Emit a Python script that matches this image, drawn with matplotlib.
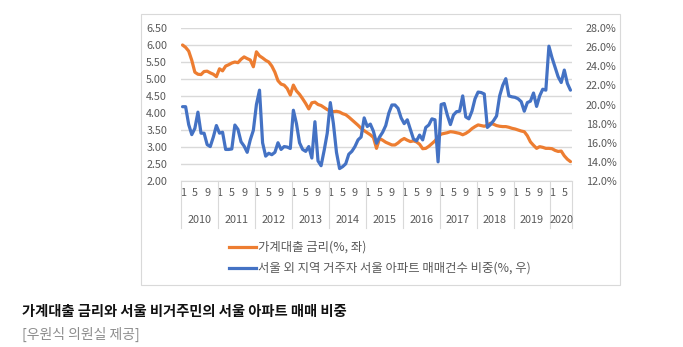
import matplotlib
matplotlib.use("Agg")
import matplotlib.pyplot as plt
from matplotlib.patches import Rectangle
from matplotlib.lines import Line2D
import matplotlib.transforms as mtransforms

plt.rcParams['font.family'] = ['Noto Sans CJK KR', 'DejaVu Sans']

# Monthly data, 2010-01 .. 2020-07
years = [2010, 2011, 2012, 2013, 2014, 2015, 2016, 2017, 2018, 2019, 2020]
n_months = 127
loan_rate = [
    6.00, 5.93, 5.82, 5.55, 5.20, 5.14, 5.13, 5.22, 5.23, 5.18, 5.14, 5.07,
    5.30, 5.24, 5.38, 5.42, 5.47, 5.50, 5.48, 5.58, 5.65, 5.60, 5.56, 5.36,
    5.80, 5.68, 5.62, 5.55, 5.50, 5.38, 5.20, 4.95, 4.85, 4.82, 4.72, 4.53,
    4.82, 4.65, 4.55, 4.42, 4.28, 4.12, 4.30, 4.32, 4.25, 4.22, 4.16, 4.10,
    4.06, 4.04, 4.05, 4.03, 3.98, 3.95, 3.88, 3.80, 3.72, 3.64, 3.55, 3.48,
    3.42, 3.36, 3.28, 2.96, 3.25, 3.20, 3.14, 3.10, 3.06, 3.06, 3.12, 3.20,
    3.25, 3.20, 3.16, 3.18, 3.15, 3.08, 2.95, 2.96, 3.02, 3.10, 3.18, 3.30,
    3.38, 3.40, 3.42, 3.45, 3.44, 3.42, 3.40, 3.36, 3.40, 3.46, 3.54, 3.60,
    3.65, 3.63, 3.61, 3.64, 3.70, 3.67, 3.63, 3.61, 3.60, 3.60, 3.58, 3.55,
    3.53, 3.50, 3.47, 3.45, 3.33, 3.15, 3.05, 2.96, 3.01, 2.99, 2.96, 2.96,
    2.95, 2.90, 2.87, 2.88, 2.74, 2.64, 2.57,
]
share = [
    19.77, 19.77, 17.9, 16.85, 17.5, 19.2, 17.0, 17.0, 15.8, 15.6, 16.6, 17.8,
    17.0, 17.1, 15.3, 15.3, 15.35, 17.85, 17.4, 16.1, 15.65, 15.0, 16.3, 17.3,
    20.0, 21.5, 16.0, 14.6, 14.9, 14.75, 15.0, 16.0, 15.3, 15.6, 15.55, 15.4,
    19.4, 18.0, 16.0, 15.3, 15.1, 15.6, 14.4, 18.2, 14.1, 13.6, 15.2, 17.0,
    20.2, 18.0, 15.0, 13.3, 13.5, 13.8, 14.8, 15.1, 15.6, 16.3, 16.6, 18.6,
    17.7, 17.95, 17.2, 15.95, 16.6, 17.1, 17.8, 19.1, 19.95, 19.95, 19.6, 18.6,
    18.0, 18.4, 17.4, 16.4, 16.2, 16.8, 16.3, 17.6, 17.86, 18.5, 18.4, 14.0,
    20.0, 20.1, 18.9, 17.9, 18.9, 19.25, 19.3, 20.9, 18.7, 18.5, 19.3, 20.6,
    21.3, 21.25, 21.1, 17.6, 17.9, 18.3, 18.8, 20.9, 22.0, 22.7, 20.9, 20.8,
    20.75, 20.6, 20.3, 19.3, 20.2, 20.35, 21.2, 19.8, 20.9, 21.6, 21.5, 26.1,
    24.9, 23.9, 22.9, 22.3, 23.6, 22.2, 21.5,
]
month_labels = ['1', '5', '9']
left_ticks = [2.00, 2.50, 3.00, 3.50, 4.00, 4.50, 5.00, 5.50, 6.00, 6.50]
right_ticks = [12, 14, 16, 18, 20, 22, 24, 26, 28]
legend_labels = ['가계대출 금리(%, 좌)', '서울 외 지역 거주자 서울 아파트 매매건수 비중(%, 우)']
caption = '가계대출 금리와 서울 비거주민의 서울 아파트 매매 비중'
source = '[우원식 의원실 제공]'

ORANGE = '#ED7D31'
BLUE = '#4472C4'
GRID = '#D9D9D9'
TXT = '#595959'

W, H = 683, 347
fig = plt.figure(figsize=(W / 100, H / 100), dpi=100)

# chart frame
fig.patches.append(Rectangle((141 / W, 1 - 285 / H), (620 - 141) / W, (285 - 14) / H,
                             transform=fig.transFigure, fill=False,
                             edgecolor=GRID, linewidth=0.8))

ax = fig.add_axes([181 / W, 1 - 181 / H, (572 - 181) / W, (181 - 28) / H])
ax2 = ax.twinx()

x = list(range(n_months))
ax.plot(x, loan_rate, color=ORANGE, lw=2.3, solid_capstyle='round', zorder=3)
ax2.plot(x, share, color=BLUE, lw=2.3, solid_capstyle='round', zorder=3)

ax.set_xlim(-0.5, n_months - 0.5)
ax.set_ylim(2.0, 6.5)
ax2.set_ylim(12, 28)
ax.set_yticks(left_ticks)
ax.set_yticklabels([f'{v:.2f}' for v in left_ticks])
ax2.set_yticks(right_ticks)
ax2.set_yticklabels([f'{v:.1f}%' for v in right_ticks])
ax.yaxis.grid(True, color=GRID, lw=1.0)
ax.set_axisbelow(True)

for a in (ax, ax2):
    for s in a.spines.values():
        s.set_visible(False)
    a.tick_params(axis='y', length=0, labelsize=7.8, labelcolor=TXT)
ax.tick_params(axis='y', pad=10)
ax2.tick_params(axis='y', pad=10)
ax.spines['bottom'].set_visible(True)
ax.spines['bottom'].set_color(GRID)

# month tick labels
mt = [i for i in range(n_months) if str(i % 12 + 1) in month_labels]
ax.set_xticks(mt)
ax.set_xticklabels([str(i % 12 + 1) for i in mt])
ax.tick_params(axis='x', length=0, labelsize=7.8, labelcolor=TXT, pad=5)

trans = mtransforms.blended_transform_factory(ax.transData, ax.transAxes)
for k, yr in enumerate(years):
    start = k * 12 - 0.5
    end = min(start + 12, n_months - 0.5)
    ax.text((start + end) / 2, -0.255, str(yr), transform=trans, ha='center',
            va='center', fontsize=7.8, color=TXT)
    ax.add_line(Line2D([start, start], [0, -0.31], transform=trans, color=GRID,
                       lw=0.8, clip_on=False))
ax.add_line(Line2D([n_months - 0.5] * 2, [0, -0.31], transform=trans, color=GRID,
                   lw=0.8, clip_on=False))

# legend (manual)
for yy, col, lab in [(247, ORANGE, legend_labels[0]), (268, BLUE, legend_labels[1])]:
    fig.add_artist(Line2D([229 / W, 256 / W], [1 - yy / H] * 2, color=col, lw=2.3,
                          transform=fig.transFigure))
    fig.text(258 / W, 1 - yy / H, lab, fontsize=8.9, color=TXT, va='center', ha='left')

fig.text(22 / W, 1 - 312 / H, caption, fontsize=10.3, fontweight='bold',
         color='#111111', va='center', ha='left')
fig.text(22 / W, 1 - 334 / H, source, fontsize=10, color='#8C8C8C', va='center', ha='left')

fig.savefig('out.png', dpi=100)
